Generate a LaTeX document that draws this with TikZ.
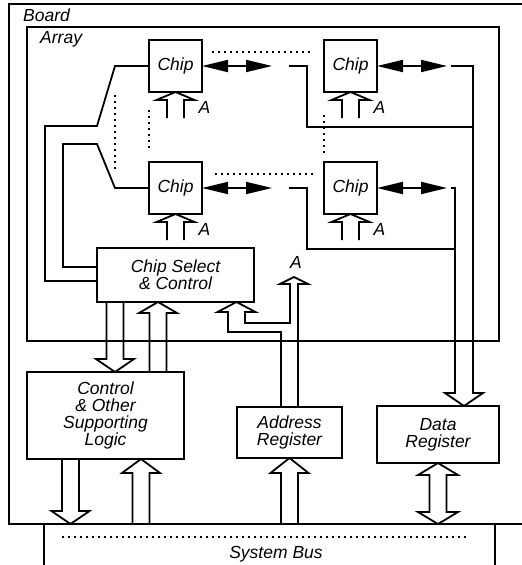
\documentclass[tikz,border=0pt]{standalone}
\usepackage{fontspec}
\setmainfont{Liberation Sans}
\usepackage{tikz}
\usetikzlibrary{arrows.meta, positioning, calc}

\newcommand{\fatarrow}[3][12]{%
  \draw let \p1=(#2), \p2=(#3), \n1={sign(\y1-\y2)*#1} in
    ({\x2-8.5pt},\y2) -- ({\x1-8.5pt},{\y1-(\n1)}) -- ({\x1-19pt},{\y1-(\n1)})
    -- (\x1,\y1) -- ({\x1+19pt},{\y1-(\n1)}) -- ({\x1+8.5pt},{\y1-(\n1)})
    -- ({\x2+8.5pt},\y2);}

\begin{document}
\begin{tikzpicture}[
    x=1pt, y=-1pt,
    line width=1.8pt,
    font={\itshape\fontsize{17.5}{17.3}\selectfont},
    chipbox/.style={draw, minimum width=53, minimum height=52, inner sep=0pt, outer sep=0pt},
    unitbox/.style={draw, align=center, inner sep=0pt, outer sep=0pt},
    dotline/.style={dash pattern=on 1.8pt off 4.2pt},
    dblarrow/.style={{Triangle[length=26pt,width=12pt]}-{Triangle[length=26pt,width=12pt]}}
]
\useasboundingbox (0,0) rectangle (522,565);
\clip (0,0) rectangle (522,565);

\draw (540,4) -| (9,524) -- (540,524);
\node[anchor=base west] (boardlabel) at (19,21) {Board};
\node[draw, minimum width=472, minimum height=314, inner sep=0pt, outer sep=0pt] (array) at (263,184) {};
\node[anchor=base west] (arraylabel) at (36,43) {Array};

\node[chipbox] (chip11) at (175.5,66) {Chip};
\node[chipbox, right=122pt of chip11] (chip12) {Chip};
\node[chipbox, below=70pt of chip11] (chip21) {Chip};
\node[chipbox, right=122pt of chip21] (chip22) {Chip};

\node[unitbox, minimum width=157, minimum height=54] (csel) at (175.5,275) {Chip Select\\\& Control};
\node[unitbox, minimum width=157, minimum height=87] (ctl) at (105.5,415.5) {Control\\\& Other\\Supporting\\Logic};
\node[unitbox, minimum width=105, minimum height=51] (areg) at (289.5,432.5) {Address\\Register};
\node[unitbox, minimum width=122, minimum height=57] (dreg) at (438,434.5) {Data\\Register};
\node[draw, minimum width=451, minimum height=58, inner sep=0pt, outer sep=0pt] (bus) at (269.5,553) {};
\node[anchor=base] (buslabel) at (276,558) {System Bus};
\draw[dotline] (62,537) -- (468,537);

\foreach \c in {chip11, chip12, chip21, chip22} {
  \fatarrow[8]{\c.south}{$(\c.south)+(0,26)$}
  \node[anchor=base west] (a\c) at ($(\c.south)+(19,21)$) {A};
  \draw[dblarrow] (\c.east) -- ++(70,0) coordinate (d\c);
}

\draw (chip11.west) -- (115,66) -- (97,126) -- (45,126) -- (45,281) -- (csel.west |- 0,281);
\draw (chip21.west) -- (115,188) -- (97,144) -- (63,144) -- (63,267) -- (csel.west |- 0,267);
\draw[dotline] (115,95) -- (115,170);
\draw[dotline] (chip11.west |- 0,110) -- (chip11.west |- 0,148);
\draw[dotline] (chip12.west |- 0,115) -- (chip12.west |- 0,153);
\draw[dotline] (212,52) -- (310,52);
\draw[dotline] (215,174) -- (315,174);

\draw ([xshift=17pt]dchip11) -- ++(18,0) |- (473,127);
\draw ([xshift=17pt]dchip21) -- ++(18,0) |- (455,249);
\draw ([xshift=4pt]dchip12) -| (473,393) -- (483,393) -- (dreg.north -| 464,0)
  -- (445,393) -- (455,393) |- ([xshift=4pt]dchip22);

\coordinate (atip) at (294,277);
\node[anchor=base] (alabel) at (296,268) {A};
\draw (areg.north -| 281,0) -- (281,332) -- (228,332) -- (228,312) -- (217.5,312)
  -- (csel.south -| 236.5,0) -- (255.5,312) -- (245,312) -- (245,323) -- (290,323)
  -- (290,284) -- (280,284) -- (atip) -- (308,284) -- (298,284) -- (areg.north -| 298,0);

\fatarrow[13]{ctl.north -| 115,0}{csel.south -| 115,0}
\fatarrow[11]{csel.south -| 158,0}{ctl.north -| 158,0}
\fatarrow[13]{bus.north -| 70.5,0}{ctl.south -| 70.5,0}
\fatarrow[14]{ctl.south -| 141,0}{bus.north -| 141,0}
\fatarrow[15]{areg.south}{areg.south |- bus.north}

\coordinate (dtop) at (dreg.south);
\coordinate (dbot) at (bus.north -| dreg.south);
\draw (dtop) -- ++(20,12) -- ++(-11.5,0) -- ($(dbot)+(8.5,-12)$) -- ++(11.5,0) -- (dbot)
  -- ++(-20,-12) -- ++(11.5,0) -- ($(dtop)+(-8.5,12)$) -- ++(-11.5,0) -- cycle;

\end{tikzpicture}
\end{document}
